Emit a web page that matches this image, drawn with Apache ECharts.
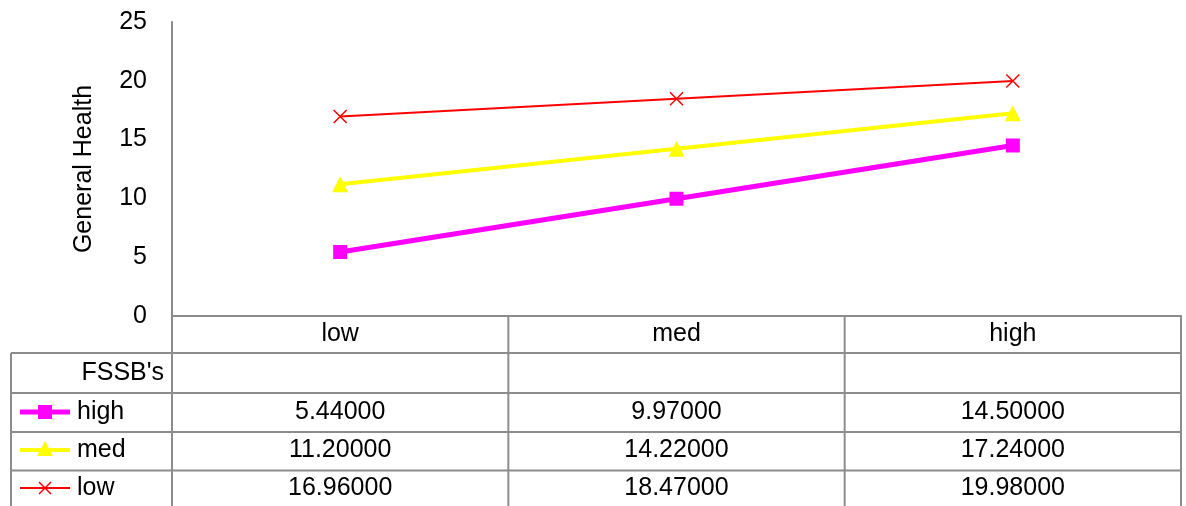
<!DOCTYPE html>
<html>
<head>
<meta charset="utf-8">
<script src="https://cdn.jsdelivr.net/npm/echarts@6/dist/echarts.min.js"></script>
<style>
  html, body { margin: 0; padding: 0; background: #fff; }
  #chart { width: 1186px; height: 506px; }
</style>
</head>
<body>
<div id="chart"></div>
<script>
// data
const categories = ['low', 'med', 'high']
const seriesNames = ['high', 'med', 'low']
const highValues = [5.44, 9.97, 14.5]
const medValues = [11.2, 14.22, 17.24]
const lowValues = [16.96, 18.47, 19.98]
const yTicks = [0, 5, 10, 15, 20, 25]

const tableTitle = "FSSB's"
const font = 'Liberation Sans, Arial, sans-serif'
const gridGray = '#8c8c8c'
const crossPath = 'path://M0,0L10,10M10,0L0,10'

const styles = [
  { color: '#ff00ff', width: 5, symbol: 'rect', size: 14 },
  { color: '#ffff00', width: 4, symbol: 'triangle', size: 16 },
  { color: '#ff0000', width: 2, symbol: crossPath, size: 13 }
]
const allValues = [highValues, medValues, lowValues]

const chart = echarts.init(document.getElementById('chart'))

const series = seriesNames.map((name, i) => {
  const s = styles[i]
  return {
    name: name,
    type: 'line',
    data: allValues[i],
    symbol: s.symbol,
    symbolSize: s.size,
    lineStyle: { color: s.color, width: s.width },
    // the cross is an open path, so it is drawn by its border only
    itemStyle: i === 2
      ? { color: 'none', borderColor: s.color, borderWidth: 1.5 }
      : { color: s.color }
  }
})

chart.setOption({
  animation: false,
  grid: { left: 172, right: 5, top: 22, bottom: 190 },
  xAxis: {
    type: 'category',
    data: categories,
    boundaryGap: true,
    axisLine: { lineStyle: { color: gridGray, width: 2 } },
    axisTick: { show: false },
    axisLabel: {
      color: '#000',
      fontSize: 25,
      fontFamily: font,
      verticalAlign: 'middle',
      margin: 18
    }
  },
  yAxis: {
    type: 'value',
    min: yTicks[0],
    max: yTicks[yTicks.length - 1],
    interval: 5,
    name: 'General Health',
    nameLocation: 'middle',
    nameRotate: 90,
    nameGap: 75,
    nameTextStyle: { color: '#000', fontSize: 25, fontFamily: font },
    axisLine: { show: true, lineStyle: { color: gridGray, width: 2 } },
    axisTick: { show: false },
    splitLine: { show: false },
    axisLabel: { color: '#000', fontSize: 25, fontFamily: font, margin: 25 }
  },
  series: series
})

// data table below the plot, columns follow the category axis
const xs = categories.map((c) => chart.convertToPixel({ xAxisIndex: 0 }, c))
const step = xs[1] - xs[0]
const tableLeft = 11
const tableRight = xs[2] + step / 2
const axisY = 316
const rowLines = [353, 393, 432, 470.5]
const rowCenters = [373, 412, 450, 488]
const bottom = 506

const g = []
const line = (x1, y1, x2, y2) => g.push({
  type: 'line',
  shape: { x1, y1, x2, y2 },
  style: { stroke: gridGray, lineWidth: 2 },
  z: 10
})
const text = (t, x, y, align) => g.push({
  type: 'text',
  x: x,
  y: y,
  style: { text: t, fill: '#000', font: '25px ' + font, align: align, verticalAlign: 'middle' },
  z: 10
})

rowLines.forEach((y) => line(tableLeft, y, tableRight, y))
line(tableLeft, rowLines[0], tableLeft, bottom)
line(172, axisY, 172, bottom)
for (let k = 1; k <= categories.length; k++) {
  const x = xs[0] - step / 2 + k * step
  line(x, axisY, x, bottom)
}
line(172, axisY, tableRight, axisY)

text(tableTitle, 164, rowCenters[0], 'right')

// legend keys + values
seriesNames.forEach((name, i) => {
  const y = rowCenters[i + 1]
  const s = styles[i]
  g.push({
    type: 'line',
    shape: { x1: 20, y1: y, x2: 70, y2: y },
    style: { stroke: s.color, lineWidth: s.width },
    z: 11
  })
  if (i === 0) {
    g.push({ type: 'rect', shape: { x: 38, y: y - 7, width: 14, height: 14 }, style: { fill: s.color }, z: 12 })
  } else if (i === 1) {
    g.push({ type: 'polygon', shape: { points: [[45, y - 9], [53, y + 6], [37, y + 6]] }, style: { fill: s.color }, z: 12 })
  } else {
    g.push({ type: 'line', shape: { x1: 39, y1: y - 6, x2: 51, y2: y + 6 }, style: { stroke: s.color, lineWidth: 1.5 }, z: 12 })
    g.push({ type: 'line', shape: { x1: 51, y1: y - 6, x2: 39, y2: y + 6 }, style: { stroke: s.color, lineWidth: 1.5 }, z: 12 })
  }
  text(name, 77, y, 'left')
  allValues[i].forEach((v, j) => text(v.toFixed(5), xs[j], y, 'center'))
})

chart.setOption({ graphic: g })
</script>
</body>
</html>
